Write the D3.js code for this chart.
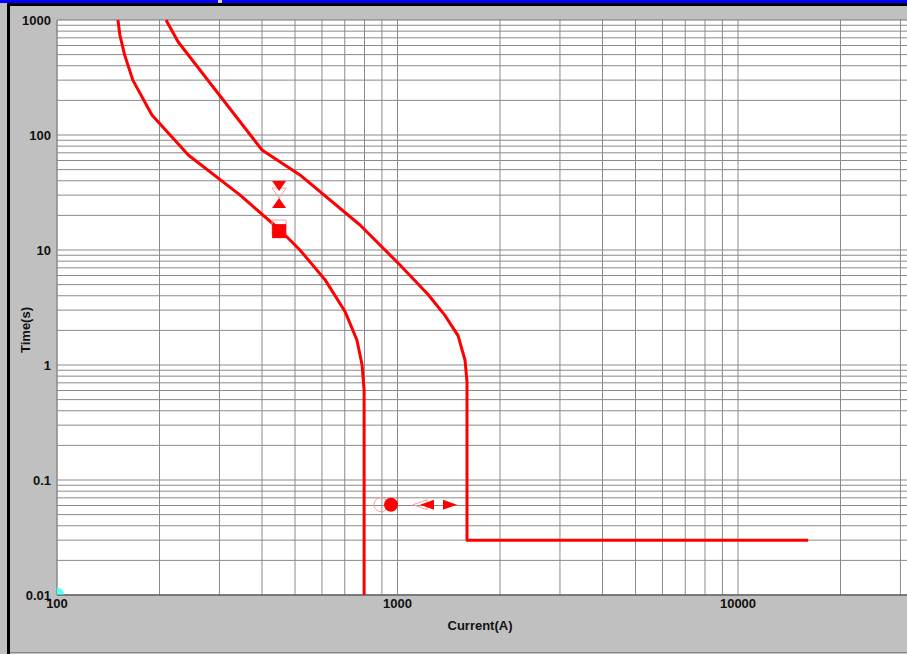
<!DOCTYPE html>
<html>
<head>
<meta charset="utf-8">
<script src="https://cdn.jsdelivr.net/npm/d3@7"></script>
<style>
  html, body { margin: 0; padding: 0; background: #c0c0c0; overflow: hidden; }
  svg { display: block; }
  .tick-label { font-family: "Liberation Sans", Arial, sans-serif; font-weight: bold; font-size: 13px; fill: #111; }
  .axis-title { font-family: "Liberation Sans", Arial, sans-serif; font-weight: bold; font-size: 13px; fill: #111; }
</style>
</head>
<body>
<div id="chart"></div>
<script>
const X_TICKS = [100, 1000, 10000];
const Y_TICKS = [0.01, 0.1, 1, 10, 100, 1000];

// minimum melting curve (current A, time s)
const LEFT_CURVE = [
  [151, 1000], [153, 740], [158, 496], [167, 300], [190, 149], [243, 67],
  [345, 30], [451, 15], [517, 10], [613, 5.5], [702, 2.9], [760, 1.65],
  [787, 1], [798, 0.6], [798, 0.01],
];

// total clearing curve with instantaneous section
const RIGHT_CURVE = [
  [209, 1000], [227, 644], [400, 74], [517, 45], [776, 16.5], [1017, 7.4],
  [1230, 4.1], [1378, 2.7], [1506, 1.8], [1579, 1.1], [1600, 0.71],
  [1600, 0.03], [16070, 0.03],
];

// setting handles: type, current, time
const MARKERS = [
  { type: "down", x: 449, y: 36 },
  { type: "up", x: 449, y: 25.6 },
  { type: "square", x: 449, y: 14.6 },
  { type: "circle", x: 957, y: 0.061 },
  { type: "left", x: 1221, y: 0.061 },
  { type: "right", x: 1426, y: 0.061 },
];

const width = 907;
const height = 654;
const plot = { left: 57, top: 20, bottom: 595, right: 960 };

const x = d3.scaleLog().domain([100, 10000]).range([plot.left, 738]);
const y = d3.scaleLog().domain([0.01, 1000]).range([plot.bottom, plot.top]);
const xMax = x.invert(plot.right);

const svg = d3.select("#chart").append("svg")
  .attr("width", width)
  .attr("height", height);

// window frame
svg.append("rect").attr("x", 0).attr("y", 0).attr("width", width).attr("height", height).attr("fill", "#c0c0c0");
svg.append("rect").attr("x", 0).attr("y", 0).attr("width", width).attr("height", 3).attr("fill", "#0000ff");
svg.append("rect").attr("x", 218).attr("y", 0).attr("width", 4).attr("height", 3).attr("fill", "#d8d0b0");
svg.append("rect").attr("x", 7).attr("y", 3).attr("width", width).attr("height", 3).attr("fill", "#000");
svg.append("rect").attr("x", 7).attr("y", 3).attr("width", 3).attr("height", height).attr("fill", "#000");
svg.append("line").attr("x1", 10).attr("x2", width).attr("y1", 652.5).attr("y2", 652.5).attr("stroke", "#888");

svg.append("rect")
  .attr("x", plot.left).attr("y", plot.top)
  .attr("width", plot.right - plot.left).attr("height", plot.bottom - plot.top)
  .attr("fill", "#fff");

// grid lines at 1..9 of every decade
const xGrid = [];
for (let d = 100; d <= 10000; d *= 10) {
  for (let m = 1; m <= 9; m++) {
    if (d * m < xMax) xGrid.push(d * m);
  }
}
const yGrid = [];
for (let d = 0.01; d < 1000; d *= 10) {
  for (let m = 1; m <= 9; m++) yGrid.push(+(d * m).toPrecision(3));
}

const grid = svg.append("g").attr("stroke", "#8a8a8a").attr("stroke-width", 1);
grid.selectAll(".gx").data(xGrid).join("line")
  .attr("x1", (d) => x(d)).attr("x2", (d) => x(d))
  .attr("y1", plot.top).attr("y2", plot.bottom);
grid.selectAll(".gy").data(yGrid).join("line")
  .attr("x1", plot.left).attr("x2", plot.right)
  .attr("y1", (d) => y(d)).attr("y2", (d) => y(d));

svg.append("line").attr("x1", plot.left).attr("x2", plot.right).attr("y1", plot.top).attr("y2", plot.top).attr("stroke", "#777");
svg.append("line").attr("x1", plot.left).attr("x2", plot.right).attr("y1", plot.bottom).attr("y2", plot.bottom).attr("stroke", "#666").attr("stroke-width", 1.5);
svg.append("line").attr("x1", plot.left).attr("x2", plot.left).attr("y1", plot.top).attr("y2", plot.bottom).attr("stroke", "#888");

// cyan origin mark
svg.append("path")
  .attr("d", d3.arc()({ innerRadius: 0, outerRadius: 7, startAngle: 0, endAngle: Math.PI / 2 }))
  .attr("transform", `translate(${plot.left},${plot.bottom - 0.5})`)
  .attr("fill", "#5ff");

// curves
const line = d3.line().x((d) => x(d[0])).y((d) => y(d[1]));
svg.append("g").selectAll("path").data([LEFT_CURVE, RIGHT_CURVE]).join("path")
  .attr("d", line)
  .attr("fill", "none")
  .attr("stroke", "#ff0000")
  .attr("stroke-width", 3)
  .attr("stroke-linejoin", "round");

// markers: ghost outline + solid shape
const SHAPES = {
  down: "M-7,-5L7,-5L0,5Z",
  up: "M-7,5L7,5L0,-5Z",
  square: "M-7,-7L7,-7L7,7L-7,7Z",
  left: "M7,-5L7,5L-7,0Z",
  right: "M-7,-5L-7,5L7,0Z",
};
const GHOST_OFFSET = {
  down: [0, 7], up: [0, 0], square: [0, -4], circle: [-10, 0], left: [-7, 0], right: [0, 0],
};

const markerGroup = svg.append("g");
markerGroup.selectAll("g").data(MARKERS).join("g")
  .attr("transform", (d) => `translate(${x(d.x)},${y(d.y)})`)
  .each(function drawMarker(d) {
    const g = d3.select(this);
    const [gx, gy] = GHOST_OFFSET[d.type];
    if (gx || gy) {
      const ghost = d.type === "circle"
        ? g.append("circle").attr("r", 7)
        : g.append("path").attr("d", SHAPES[d.type]);
      ghost.attr("transform", `translate(${gx},${gy})`)
        .attr("fill", "none").attr("stroke", "#ff9c9c").attr("stroke-width", 1);
    }
    const solid = d.type === "circle"
      ? g.append("circle").attr("r", 7)
      : g.append("path").attr("d", SHAPES[d.type]);
    solid.attr("fill", "#ff0000");
  });

// tick labels
svg.append("g").selectAll("text").data(Y_TICKS).join("text")
  .attr("class", "tick-label")
  .attr("x", 51)
  .attr("y", (d) => y(d) + 5)
  .attr("text-anchor", "end")
  .text((d) => String(d));

svg.append("g").selectAll("text").data(X_TICKS).join("text")
  .attr("class", "tick-label")
  .attr("x", (d) => x(d))
  .attr("y", 608)
  .attr("text-anchor", "middle")
  .text((d) => String(d));

svg.append("text")
  .attr("class", "axis-title")
  .attr("x", 480).attr("y", 630)
  .attr("text-anchor", "middle")
  .text("Current(A)");

svg.append("text")
  .attr("class", "axis-title")
  .attr("transform", "translate(30,330) rotate(-90)")
  .attr("text-anchor", "middle")
  .text("Time(s)");
</script>
</body>
</html>
